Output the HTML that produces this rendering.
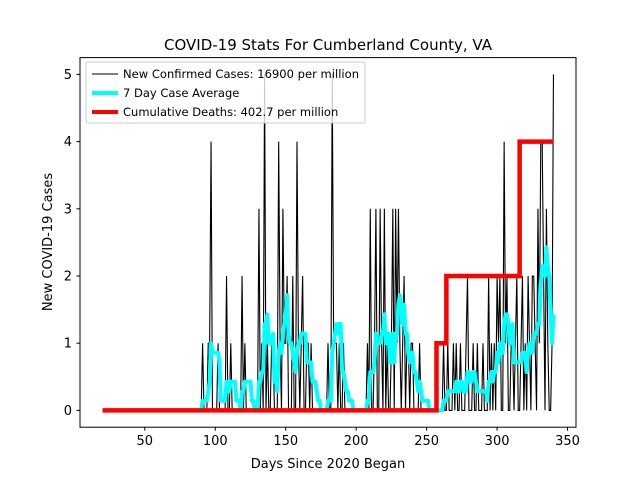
<!DOCTYPE html>
<html><head><meta charset="utf-8"><style>body{margin:0;background:#fff}svg{display:block;font-family:"DejaVu Sans","Liberation Sans",sans-serif}</style></head>
<body>
<svg id="chart" width="640" height="480" viewBox="0 0 640 480" xmlns="http://www.w3.org/2000/svg">
<rect width="640" height="480" fill="#fff"/>
<g id="plot"></g>
<rect x="80" y="57.6" width="496" height="369.6" fill="none" stroke="#000" stroke-width="1"/>
<text x="328" y="50" text-anchor="middle" font-size="15">COVID-19 Stats For Cumberland County, VA</text>
<text x="328" y="468" text-anchor="middle" font-size="13">Days Since 2020 Began</text>
<text transform="translate(52,242) rotate(-90)" text-anchor="middle" font-size="13">New COVID-19 Cases</text>
<g id="ticks"></g>
<g>
<rect x="86" y="62" width="279" height="61" fill="#fff" fill-opacity="0.8" stroke="#ccc" rx="2"/>
<line x1="92" y1="74" x2="118" y2="74" stroke="#000" stroke-width="1"/>
<text x="123" y="78" font-size="11.5" textLength="236">New Confirmed Cases: 16900 per million</text>
<line x1="92" y1="93" x2="118" y2="93" stroke="#00ffff" stroke-width="4"/>
<text x="123" y="97" font-size="11.5">7 Day Case Average</text>
<line x1="92" y1="112" x2="118" y2="112" stroke="#ff0000" stroke-width="4"/>
<text x="123" y="116" font-size="11.5">Cumulative Deaths: 402.7 per million</text>
</g>
</svg>
<script>
const startDay = 20;
const lateCases = [
0,1,0,0,0,1,1,4,0,0, 0,0,1,0,0,0,0,0,2,0, 0,1,0,0,0,0,0,0,0,2, 0,1,0,0,0,0,0,0,0,0,
0,3,0,1,0,5,0,1,0,0, 1,1,0,0,0,4,1,0,3,1, 1,2,0,0,0,2,0,0,4,1, 0,1,2,0,0,1,1,0,1,0,
0,0,0,0,0,0,0,0,0,0, 1,0,0,5,1,1,1,0,1,0, 0,1,0,0,0,0,0,0,0,0, 0,0,0,0,0,0,0,0,1,0,
3,0,0,1,3,0,0,3,1,0, 3,0,1,0,0,1,3,0,3,1, 3,1,0,1,2,0,1,1,0,1, 1,0,0,0,0,1,0,0,0,0,
0,0,0,0,0,0,0,0,0,0, 0,0,1,0,0,1,0,0,0,1, 0,1,0,0,1,0,0,0,1,2, 0,0,0,1,0,0,1,0,0,0,
1,0,0,0,2,0,1,0,1,0, 2,1,2,0,0,4,1,2,0,0, 1,1,0,1,2,0,0,1,2,0, 1,0,2,1,0,2,2,1,0,3,
1,4,4,2,0,3,1,0,0,1, 5];
const cases = new Array(70).fill(0).concat(lateCases); // days 20..340
const deathSteps = [[20,0],[257,1],[264,2],[316,4],[340,4]];
const xTicks = [50,100,150,200,250,300,350];
const yTicks = [0,1,2,3,4,5];

const X = d => 80 + (d - 4) * 496 / 352;
const Y = v => 427.2 - (v + 0.25) * 369.6 / 5.5;
const NS = 'http://www.w3.org/2000/svg';
const plot = document.getElementById('plot');
function mk(tag, attrs, parent){const e=document.createElementNS(NS,tag);for(const k in attrs)e.setAttribute(k,attrs[k]);parent.appendChild(e);return e;}

let p = cases.map((v,i)=>X(startDay+i).toFixed(2)+','+Y(v).toFixed(2)).join(' ');
const l1 = mk('polyline',{points:p,fill:'none',stroke:'#000','stroke-width':1.1},plot);



const avg = [];
for(let i=6;i<cases.length;i++){let s=0;for(let j=i-6;j<=i;j++)s+=cases[j];avg.push([startDay+i,s/7]);}
p = avg.map(a=>X(a[0]).toFixed(2)+','+Y(a[1]).toFixed(2)).join(' ');
const l2 = mk('polyline',{points:p,fill:'none',stroke:'#00ffff','stroke-width':4,'stroke-linejoin':'round'},plot);



const dp = [];
for(let k=0;k<deathSteps.length;k++){
  const [d,v]=deathSteps[k];
  if(k>0) dp.push(X(d).toFixed(2)+','+Y(deathSteps[k-1][1]).toFixed(2));
  dp.push(X(d).toFixed(2)+','+Y(v).toFixed(2));
}
const l3 = mk('polyline',{points:dp.join(' '),fill:'none',stroke:'#ff0000','stroke-width':4.5},plot);



const tg = document.getElementById('ticks');
xTicks.forEach(t=>{
  mk('line',{x1:X(t),x2:X(t),y1:427.2,y2:430.7,stroke:'#000'},tg);
  const tx = mk('text',{x:X(t),y:445,'text-anchor':'middle','font-size':13},tg);
  
  
  tx.textContent=t;
});
yTicks.forEach(t=>{
  mk('line',{x1:76.5,x2:80,y1:Y(t),y2:Y(t),stroke:'#000'},tg);
  const tx = mk('text',{x:72,y:Y(t)+4.5,'text-anchor':'end','font-size':13},tg);
  
  
  tx.textContent=t;
});
</script>
</body></html>
